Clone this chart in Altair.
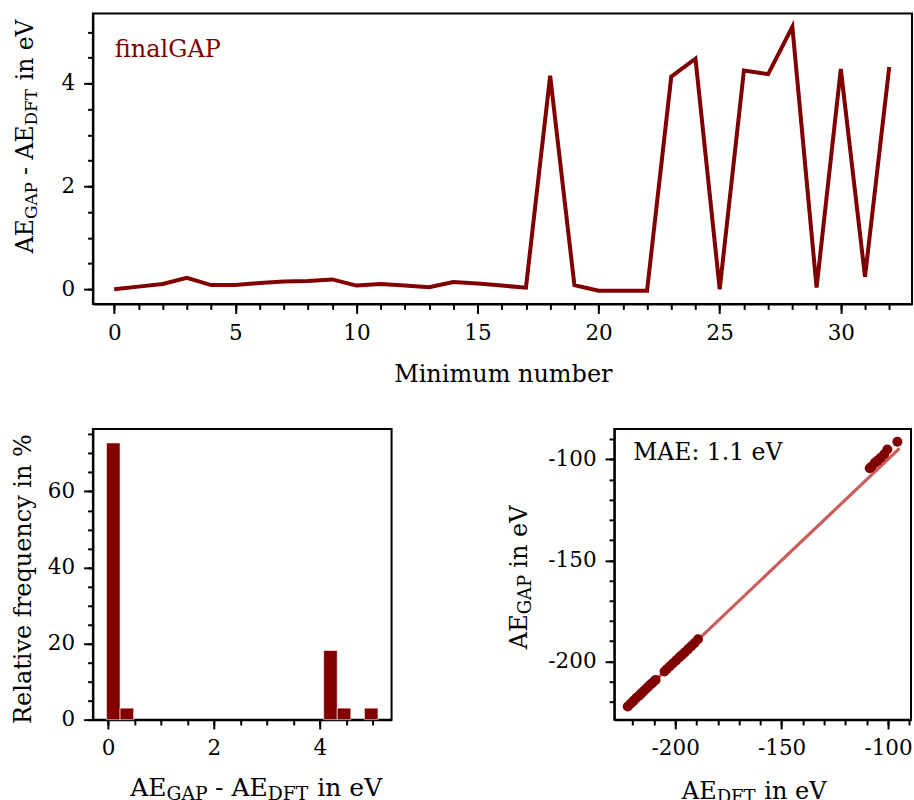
import altair as alt
import numpy as np
import pandas as pd

# ---------------- data ----------------
minimum = list(range(33))
diff = [0.00, 0.05, 0.10, 0.22, 0.08, 0.08, 0.12, 0.15, 0.16, 0.19,
        0.07, 0.10, 0.07, 0.04, 0.14, 0.11, 0.07, 0.03, 4.15, 0.08,
        -0.03, -0.03, -0.03, 4.13, 4.48, 0.00, 4.25, 4.18, 5.10, 0.03,
        4.28, 0.24, 4.32]

ae_dft = [-222.3, -220.8, -219.5, -218.2, -217.0, -216.0, -215.0, -214.0,
          -213.0, -212.0, -211.0, -210.0, -209.2, -205.0, -204.0, -202.5,
          -201.0, -199.5, -108.6, -198.0, -196.8, -195.5, -194.0, -107.8,
          -106.2, -192.5, -104.9, -103.4, -100.3, -191.0, -101.8, -189.3,
          -95.6]
ae_gap = [-222.30, -220.75, -219.40, -217.98, -216.92, -215.92, -214.88,
          -213.85, -212.84, -211.81, -210.93, -209.90, -209.13, -204.96,
          -203.86, -202.39, -200.93, -199.47, -104.45, -197.92, -196.83,
          -195.53, -194.03, -103.67, -101.72, -192.50, -100.65, -99.22,
          -95.20, -190.97, -97.52, -189.06, -91.28]
diag = [-222.6, -94.6]

mae_label = "MAE: 1.1 eV"
series_label = "finalGAP"

DARK = "#800000"
FONT = "DejaVu Serif"
TFS = 24        # title font size
LFS = 21.5      # tick label font size

# approximate DejaVu Serif advance widths (em)
W = {' ': .318, '-': .338, '%': .950, '.': .318, ':': .337,
     'A': .722, 'D': .830, 'E': .730, 'F': .694, 'G': .775, 'M': .863,
     'P': .674, 'T': .701, 'V': .722, 'R': .770,
     'a': .596, 'b': .640, 'c': .560, 'e': .592, 'f': .370, 'i': .320,
     'l': .320, 'm': .948, 'n': .644, 'q': .640, 'r': .478, 't': .401,
     'u': .644, 'v': .565, 'y': .565}
for d in "0123456789":
    W[d] = .636


def tw(s, fs):
    return sum(W.get(c, .6) for c in s) * fs


dummy = pd.DataFrame({"d": [0]})


def text_layer(txt, x, y, fs, angle=0, color="black"):
    kw = dict(text=txt, align="left", baseline="alphabetic", font=FONT,
              fontSize=fs, color=color)
    if angle:
        kw["angle"] = angle
    return alt.Chart(dummy).mark_text(**kw).encode(x=alt.value(x), y=alt.value(y))


def rich_title(pieces, cx, cy, rotated, fs=TFS, sub_scale=0.75, sub_shift=4):
    total = sum(tw(t, fs * (sub_scale if sub else 1)) for t, sub in pieces)
    pos = -total / 2
    out = []
    for t, sub in pieces:
        size = fs * sub_scale if sub else fs
        lead = len(t) - len(t.lstrip(' '))
        start = pos + tw(' ' * lead, size)
        txt = t.strip()
        if rotated:
            x = cx + (sub_shift if sub else 0)
            y = cy - start
            out.append(text_layer(txt, x, y, size, angle=270))
        else:
            x = cx + start
            y = cy + (sub_shift if sub else 0)
            out.append(text_layer(txt, x, y, size))
        pos += tw(t, size)
    return out


def major(values, orient):
    return alt.Axis(values=values, title=None, orient=orient, tickSize=9.3,
                    labelPadding=9, labelExpr="'' + datum.value", grid=False,
                    labelFlush=False, labelOverlap=False)


def minor(values, orient):
    return alt.Axis(values=values, title=None, orient=orient, tickSize=5.3,
                    labels=False, domain=False, grid=False)


diff_title = [("AE", False), ("GAP", True), (" - AE", False), ("DFT", True), (" in eV", False)]

# ---------------- top panel ----------------
df_top = pd.DataFrame({"minimum": minimum, "diff": diff})
xs_top = alt.Scale(domain=[-0.88, 32.94], nice=False, zero=False)
ys_top = alt.Scale(domain=[-0.29, 5.36], nice=False, zero=False)

top_line = alt.Chart(df_top).mark_line(color=DARK, strokeWidth=4).encode(
    x=alt.X("minimum:Q", scale=xs_top, axis=major([0, 5, 10, 15, 20, 25, 30], "bottom")),
    y=alt.Y("diff:Q", scale=ys_top, axis=major([0, 2, 4], "left")),
)
top_minor = alt.Chart(df_top).mark_point(opacity=0).encode(
    x=alt.X("minimum:Q", scale=xs_top, axis=minor(list(range(0, 33)), "bottom")),
    y=alt.Y("diff:Q", scale=ys_top, axis=minor([i * 0.5 for i in range(11)], "left")),
)
top_texts = (rich_title(diff_title, -60, 123, True, fs=23.5, sub_scale=0.72)
             + [text_layer("Minimum number", 409 - tw("Minimum number", TFS) / 2, 369, TFS)]
             + [text_layer(series_label, 22, 44, 24, color=DARK)])
top = alt.layer(top_line, top_minor, *top_texts).resolve_axis(
    x="independent", y="independent").properties(width=820, height=291)

# ---------------- histogram ----------------
counts, edges = np.histogram(np.array(diff), bins=20)
df_hist = pd.DataFrame({"lo": edges[:-1], "hi": edges[1:],
                        "rel": counts / len(diff) * 100, "base": 0.0})
df_hist = df_hist[df_hist["rel"] > 0]
xs_h = alt.Scale(domain=[-0.287, 5.357], nice=False, zero=False)
ys_h = alt.Scale(domain=[0, 76.4], nice=False, zero=False)
bars = alt.Chart(df_hist).mark_bar(color=DARK, stroke="white", strokeWidth=0.6).encode(
    x=alt.X("lo:Q", scale=xs_h, axis=major([0, 2, 4], "bottom")),
    x2="hi:Q",
    y=alt.Y("rel:Q", scale=ys_h, axis=major([0, 20, 40, 60], "left")),
    y2="base:Q",
)
bars_minor = alt.Chart(df_hist).mark_point(opacity=0).encode(
    x=alt.X("lo:Q", scale=xs_h, axis=minor([i * 0.5 for i in range(11)], "bottom")),
    y=alt.Y("rel:Q", scale=ys_h, axis=minor(list(range(0, 80, 5)), "left")),
)
rel_title = "Relative frequency in %"
hist_texts = (rich_title([(rel_title, False)], -62.3, 150, True)
              + rich_title(diff_title, 163.5, 367.7, False, fs=25))
hist = alt.layer(bars, bars_minor, *hist_texts).resolve_axis(
    x="independent", y="independent").properties(width=299, height=291)

# ---------------- scatter ----------------
df_sc = pd.DataFrame({"dft": ae_dft, "gap": ae_gap})
df_diag = pd.DataFrame({"dft": diag, "gap": diag})
xs_s = alt.Scale(domain=[-228.6, -89.2], nice=False, zero=False)
ys_s = alt.Scale(domain=[-228.8, -85.0], nice=False, zero=False)
diag_line = alt.Chart(df_diag).mark_line(color="#cd5c5c", strokeWidth=3.2).encode(
    x=alt.X("dft:Q", scale=xs_s, axis=major([-200, -150, -100], "bottom")),
    y=alt.Y("gap:Q", scale=ys_s, axis=major([-200, -150, -100], "left")),
)
pts = alt.Chart(df_sc).mark_circle(color=DARK, size=100, opacity=1).encode(
    x=alt.X("dft:Q", scale=xs_s, axis=minor(list(range(-220, -85, 10)), "bottom")),
    y=alt.Y("gap:Q", scale=ys_s, axis=minor(list(range(-220, -85, 10)), "left")),
)
sc_texts = (rich_title([("AE", False), ("GAP", True), (" in eV", False)], -87.7, 148.5, True)
            + rich_title([("AE", False), ("DFT", True), (" in eV", False)], 140, 370, False)
            + [text_layer(mae_label, 19, 31, 23.5)])
scatter = alt.layer(diag_line, pts, *sc_texts).resolve_axis(
    x="independent", y="independent").properties(width=297, height=291)

bottom = alt.hconcat(hist, scatter, spacing=223, bounds="flush")
chart = alt.vconcat(top, bottom, spacing=125, bounds="flush").properties(
    padding={"left": 10, "top": 12, "right": 0, "bottom": 0},
    background="white",
).configure_view(stroke="black", strokeWidth=2).configure_axis(
    domainColor="black", domainWidth=2, tickColor="black", tickWidth=2,
    labelFont=FONT, labelFontSize=LFS, labelColor="black",
)

chart.save("out.html", embed_options={"renderer": "svg", "actions": False})
